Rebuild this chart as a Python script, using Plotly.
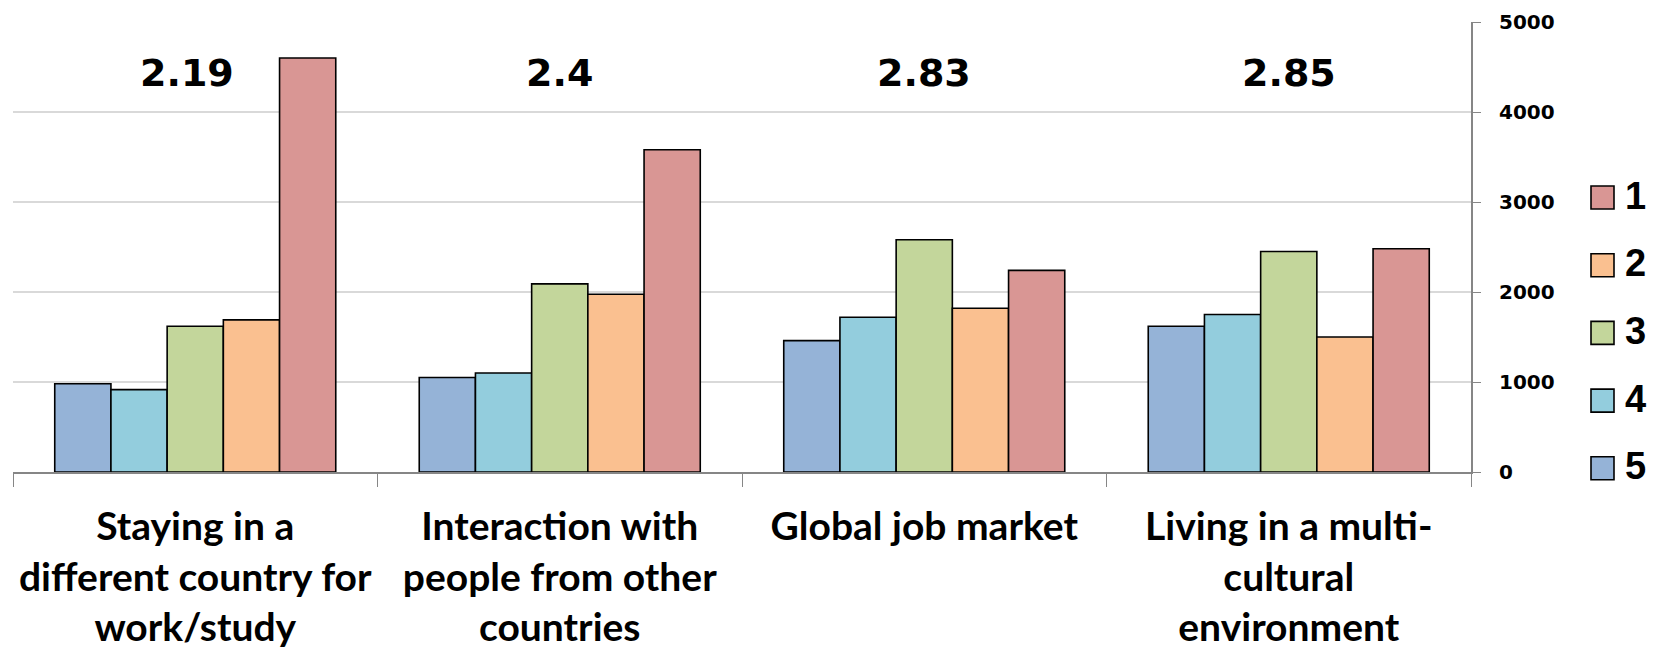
import plotly.graph_objects as go

# ---- data ----
categories = ["Staying in a different country for work/study",
              "Interaction with people from other countries",
              "Global job market",
              "Living in a multi-cultural environment"]
tick_labels = ["Staying in a<br>different country for<br>work/study",
               "Interaction with<br>people from other<br>countries",
               "Global job market",
               "Living in a multi-<br>cultural<br>environment"]
mean_labels = ["2.19", "2.4", "2.83", "2.85"]

series_names = ["5", "4", "3", "2", "1"]
rating_5 = [980, 1050, 1460, 1620]
rating_4 = [915, 1100, 1720, 1750]
rating_3 = [1620, 2090, 2580, 2450]
rating_2 = [1690, 1975, 1820, 1500]
rating_1 = [4600, 3580, 2240, 2480]
series_values = [rating_5, rating_4, rating_3, rating_2, rating_1]
series_colors = ["#95B3D7", "#93CDDD", "#C3D69B", "#FAC090", "#D99694"]
y_ticks = [0, 1000, 2000, 3000, 4000, 5000]

# ---- layout constants (page body margin removed via post_script) ----
W, H = 1655, 649
ML, MT = 13, 22
PR, PB = 1471, 472  # plot right / bottom in px
MR, MB = W - PR, H - PB
PW, PH = W - ML - MR, H - MT - MB


def px_x(px):
    return (px - ML) / PW


def px_y(py):
    return 1 - (py - MT) / PH


fig = go.Figure()
for name, vals, col in zip(series_names, series_values, series_colors):
    fig.add_trace(go.Bar(
        x=categories, y=vals, name=name,
        marker=dict(color=col, line=dict(color="#000000", width=1.6)),
        showlegend=False,
    ))

# mean annotations
shifts = [-8, 0, 0, 0]
for cat, lab, sh in zip(categories, mean_labels, shifts):
    fig.add_annotation(x=cat, xref="x", y=px_y(73), yref="paper",
                       text=lab, showarrow=False, xshift=sh,
                       font=dict(family="DejaVu Sans", size=38, color="#000000", weight="bold"),
                       yanchor="middle", xanchor="center")

# manual legend (top to bottom: 1..5)
legend_order = list(range(len(series_names)))[::-1]
for k, idx in enumerate(legend_order):
    yc = 197.5 + 67.7 * k
    fig.add_shape(type="rect", xref="paper", yref="paper",
                  x0=px_x(1591), x1=px_x(1614), y0=px_y(yc + 11.5), y1=px_y(yc - 11.5),
                  fillcolor=series_colors[idx], line=dict(color="#000000", width=1.6))
    fig.add_annotation(x=px_x(1623), y=px_y(yc - 2), xref="paper", yref="paper",
                       text=series_names[idx], showarrow=False,
                       xanchor="left", yanchor="middle",
                       font=dict(family="Liberation Sans", size=38, color="#000000", weight="bold"))

fig.update_layout(
    width=W, height=H,
    margin=dict(l=ML, r=MR, t=MT, b=MB, pad=0, autoexpand=False),
    paper_bgcolor="#FFFFFF", plot_bgcolor="#FFFFFF",
    barmode="group", bargap=0.229, bargroupgap=0,
    showlegend=False,
)
fig.update_xaxes(
    tickmode="array", tickvals=categories, ticktext=tick_labels,
    tickson="boundaries", ticks="outside", ticklen=13, tickcolor="#868686", tickwidth=1,
    showline=True, linecolor="#868686", linewidth=2,
    showgrid=False, tickangle=0, automargin=False,
    tickfont=dict(family="Lato", size=39, color="#000000", weight="bold"),
    ticklabelstandoff=19,
)
fig.update_yaxes(
    range=[0, 5000], side="right", tickvals=y_ticks,
    showgrid=True, gridcolor="#D9D9D9", gridwidth=1.5,
    showline=True, linecolor="#868686", linewidth=2,
    ticks="outside", ticklen=8, tickcolor="#868686", tickwidth=1, automargin=False,
    tickfont=dict(family="DejaVu Sans", size=20, color="#000000", weight="bold"),
    ticklabelstandoff=14, zeroline=False,
)

fig.write_html("out.html",
               config={"displayModeBar": False},
               post_script="document.body.style.margin='0px';document.body.style.overflow='hidden';")
